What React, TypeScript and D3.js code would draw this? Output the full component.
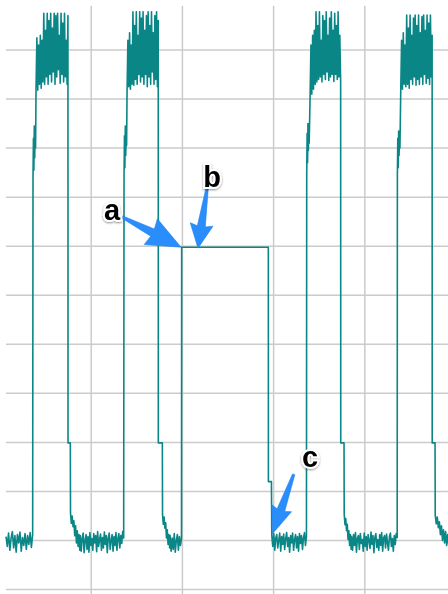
import React from "react";
import * as d3 from "d3";

// time axis: 10 units per vertical grid division, value axis: 1 unit per horizontal division
const timeTicks = [10, 20, 30, 40];
const valueTicks = [-1, 0, 1, 2, 3, 4, 5, 6, 7, 8, 9, 10];

// trace pieces: [tStart, tEnd, values spread evenly between them]
const lowStart = [0.08, -0.12, 0.15, -0.2, 0.05, 0.18, -0.15, 0.1, -0.24, 0.12, -0.05, 0.17, -0.22, 0.06, -0.1, 0.14, -0.18, 0.1, -0.08, 0.16, -0.14, 0.12];
const rise1 = [7.4, 8.2, 7.55, 8.45, 7.8, 8.35, 8.0];
const high1 = [9.2, 10.25, 9.18, 10.1, 9.3, 10.3, 9.22, 10.2, 9.35, 10.75, 9.3, 10.4, 9.45, 10.75, 9.3, 10.6, 9.5, 10.75, 9.35, 10.45, 9.55, 10.75, 9.3, 10.7, 9.45, 10.75, 9.6, 10.3, 9.32, 10.75, 9.5, 10.55, 9.35, 10.75, 9.45, 10.2, 9.3, 10.7];
const decay1 = [0.56, 0.35, 0.5, 0.28, 0.4, 0.1, 0.3, -0.05, 0.2, -0.12, 0.12, -0.2];
const low1 = [0.1, -0.22, 0.05, 0.15, -0.25, 0.0, 0.12, -0.18, 0.08, -0.24, 0.16, -0.1, 0.04, -0.2, 0.14, -0.05, 0.1, -0.23, 0.18, -0.12, 0.02, 0.13, -0.2, 0.06, -0.15, 0.17, -0.08, 0.1, -0.25, 0.05, 0.15, -0.18, 0.0, 0.12, -0.22, 0.08, -0.1, 0.16, -0.2, 0.04, 0.14, -0.15, 0.1, -0.06, 0.18, 0.05];
const rise2 = [7.4, 8.25, 7.6, 8.45, 7.85, 8.3, 8.05];
const high2 = [9.15, 10.2, 9.25, 10.35, 9.2, 10.1, 9.3, 10.78, 9.28, 10.5, 9.4, 10.78, 9.3, 10.3, 9.5, 10.78, 9.35, 10.65, 9.45, 10.78, 9.3, 10.4, 9.5, 10.7, 9.25, 10.78, 9.45, 10.5, 9.3, 10.78, 9.55, 10.35, 9.3, 10.7, 9.4, 10.78, 9.25, 10.6];
const decay2 = [0.53, 0.33, 0.48, 0.25, 0.36, 0.05, 0.22, -0.08, 0.12, -0.15];
const low2 = [0.1, -0.22, 0.05, -0.18, 0.14, -0.24, 0.0, 0.12, -0.2, 0.08, -0.1, 0.04];
const low3 = [0.1, -0.12, 0.14, -0.2, 0.05, 0.12, -0.15, 0.0, 0.15, -0.22, 0.08, -0.08, 0.13, -0.18, 0.04, 0.16, -0.12, 0.06, -0.24, 0.1, -0.05, 0.15, -0.2, 0.02, 0.12, -0.15, 0.08, -0.22, 0.14, -0.06, 0.1, -0.18, 0.05, 0.16, -0.1, 0.08];
const rise3 = [7.45, 8.3, 7.7, 8.5, 7.95, 8.4, 8.1];
const high3 = [9.05, 10.1, 9.1, 10.3, 9.2, 10.4, 9.3, 10.78, 9.35, 10.5, 9.4, 10.78, 9.45, 10.2, 9.35, 10.7, 9.5, 10.6, 9.4, 10.78, 9.55, 10.3, 9.38, 10.65, 9.45, 10.78, 9.5, 10.4, 9.36, 10.75, 9.5, 10.5, 9.4, 10.78, 9.45, 10.3, 9.36];
const decay3 = [0.53, 0.32, 0.45, 0.2, 0.33, 0.02, 0.2, -0.1, 0.12, -0.18];
const low4 = [0.08, -0.2, 0.12, -0.1, 0.16, -0.24, 0.04, 0.1, -0.18, 0.14, -0.06, 0.02, -0.22, 0.15, -0.12, 0.08, -0.2, 0.12, 0.0, -0.16, 0.17, -0.08, 0.1, -0.25, 0.06, 0.14, -0.14, 0.02, -0.2, 0.12, -0.1, 0.16, -0.22, 0.05, 0.1, -0.15, 0.13, -0.05, -0.2, 0.08, 0.15, -0.12, 0.04, -0.22, 0.1, -0.08, 0.14, 0.06];
const rise4 = [7.45, 8.2, 7.6, 8.35, 7.85, 8.25, 8.0];
const high4 = [9.18, 10.2, 9.2, 10.35, 9.3, 10.1, 9.25, 10.71, 9.3, 10.45, 9.22, 10.71, 9.4, 10.3, 9.3, 10.65, 9.45, 10.71, 9.28, 10.5, 9.4, 10.71, 9.3, 10.35, 9.45, 10.68, 9.3, 10.71, 9.5, 10.4, 9.32, 10.71, 9.42, 10.55, 9.3, 10.71, 9.45, 10.3];
const decay4 = [0.52, 0.34, 0.48, 0.26, 0.38, 0.12, 0.3, 0.0, 0.22, -0.05, 0.18, -0.1, 0.12, -0.08];

const segments: [number, number, number[]][] = [
  [0.66, 3.58, lowStart],
  [3.62, 3.9, rise1],
  [3.95, 7.45, high1],
  [7.46, 7.71, [1.99, 1.99]],
  [7.73, 8.75, decay1],
  [8.8, 13.56, low1],
  [13.6, 13.88, rise2],
  [13.93, 17.35, high2],
  [17.36, 17.8, [1.99, 1.99]],
  [17.82, 18.6, decay2],
  [18.65, 19.9, low2],
  [19.92, 29.42, [5.98, 5.98]],
  [29.43, 29.76, [1.2, 1.2]],
  [29.8, 33.6, low3],
  [33.63, 33.9, rise3],
  [34.0, 37.35, high3],
  [37.36, 37.72, [1.99, 1.99]],
  [37.74, 38.5, decay3],
  [38.55, 43.55, low4],
  [43.57, 43.85, rise4],
  [43.94, 47.38, high4],
  [47.39, 47.7, [1.99, 1.99]],
  [47.72, 49.2, decay4],
];

// annotation callouts, anchored in data units
const labels = ["a", "b", "c"];
const arrowTips: [number, number][] = [[19.85, 5.98], [21.71, 5.96], [29.88, 0.14]];
const arrowTails: [number, number][] = [[13.34, 6.6], [22.7, 7.17], [32.2, 1.35]];
const labelSpots: [number, number][] = [[12.28, 6.73], [23.25, 7.41], [33.99, 1.7]];
const headSizes: [number, number][] = [[32, 14.5], [22, 11.5], [25, 10.5]];

const W = 448;
const H = 594;

export default function App() {
  const x = d3.scaleLinear().domain([0, 49.12]).range([0, W]);
  const y = d3.scaleLinear().domain([0, 10]).range([540.5, 50]);

  const pts: [number, number][] = segments.flatMap(([t0, t1, vals]) =>
    vals.map((v, i) => [t0 + ((t1 - t0) * i) / (vals.length - 1), v] as [number, number])
  );
  const line = d3.line<[number, number]>().x((d) => x(d[0])).y((d) => y(d[1]));

  const arrowPath = (k: number) => {
    const [tx, ty] = [x(arrowTails[k][0]), y(arrowTails[k][1])];
    const [px, py] = [x(arrowTips[k][0]), y(arrowTips[k][1])];
    const len = Math.hypot(px - tx, py - ty);
    const ux = (px - tx) / len, uy = (py - ty) / len;
    const nx = -uy, ny = ux;
    const [hl, hw] = headSizes[k];
    const bx = px - ux * hl, by = py - uy * hl;
    const p = (cx: number, cy: number, s: number, back = 0) => [cx + nx * s - ux * back, cy + ny * s - uy * back];
    const poly = [
      p(tx, ty, 1.2),
      p(bx, by, 4),
      p(bx, by, hw, 2),
      [px, py],
      p(bx, by, -hw, 2),
      p(bx, by, -4),
      p(tx, ty, -1.2),
    ];
    return "M" + poly.map((q) => q.join(",")).join("L") + "Z";
  };

  return (
    <svg
      width={W}
      height={H}
      style={{ position: "absolute", left: 0, top: 0, background: "#fff" }}
    >
      <defs>
        <filter id="shadow" x="-30%" y="-30%" width="160%" height="160%">
          <feDropShadow dx="0" dy="1" stdDeviation="1" floodColor="#000" floodOpacity="0.45" />
        </filter>
      </defs>
      <g stroke="#cbcbcb" strokeWidth={1.5}>
        {valueTicks.map((v) => (
          <line key={"h" + v} x1={x(0.66)} x2={W} y1={y(v)} y2={y(v)} />
        ))}
        {timeTicks.map((t) => (
          <line key={"v" + t} x1={x(t)} x2={x(t)} y1={y(10.9)} y2={H} />
        ))}
      </g>
      <path d={line(pts) ?? ""} fill="none" stroke="#0b8686" strokeWidth={1.6} strokeLinejoin="round" />
      {labels.map((lab, k) => (
        <g key={lab}>
          <path d={arrowPath(k)} fill="#2a8dfc" stroke="#1f7fe8" strokeWidth={0.6} strokeLinejoin="round" />
          <text
            x={x(labelSpots[k][0])}
            y={y(labelSpots[k][1])}
            textAnchor="middle"
            dominantBaseline="central"
            fontFamily="'Liberation Sans', Arial, sans-serif"
            fontWeight="bold"
            fontSize={29}
            fill="#000"
            stroke="#fff"
            strokeWidth={4}
            paintOrder="stroke"
            filter="url(#shadow)"
          >
            {lab}
          </text>
        </g>
      ))}
    </svg>
  );
}
